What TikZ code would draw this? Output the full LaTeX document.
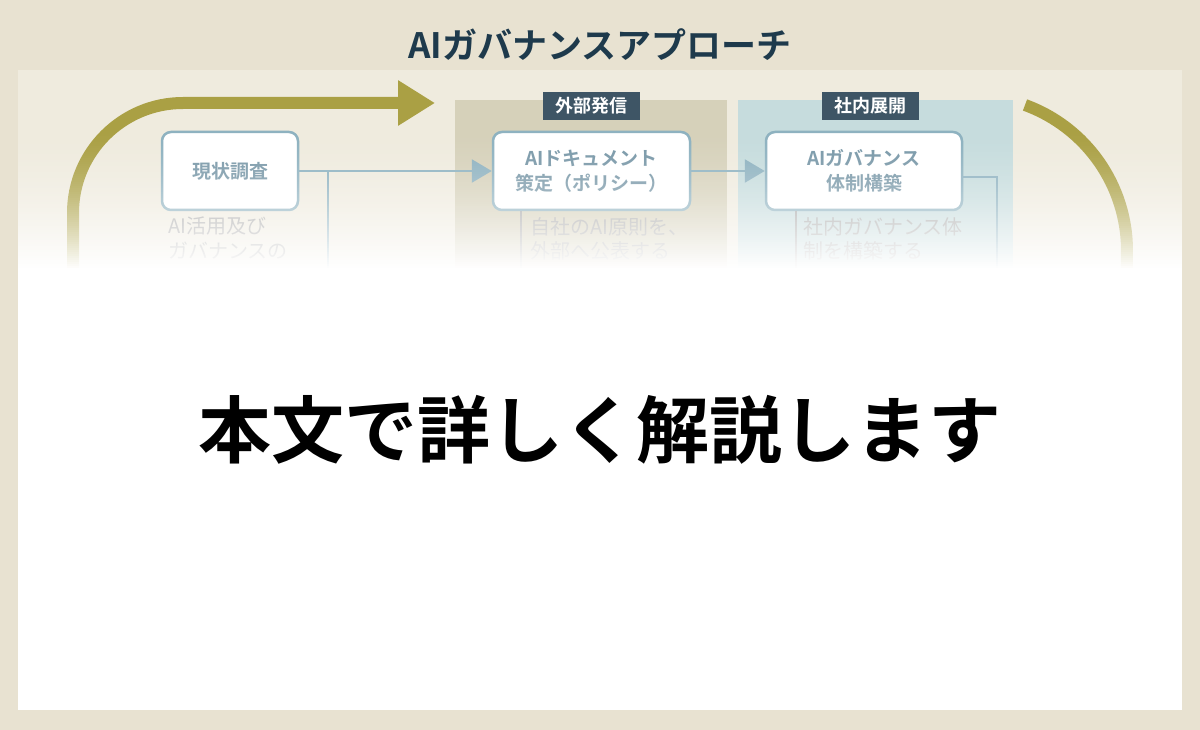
\documentclass[tikz,border=0pt]{standalone}
\usepackage{fontspec}
\usepackage{xcolor}
\usepackage{tikz}
\usetikzlibrary{arrows.meta}
\newfontfamily\jpfont{Noto Sans CJK JP}[BoldFont={Noto Sans CJK JP Bold}]
\definecolor{bgbeige}{RGB}{232,226,209}
\definecolor{panel}{RGB}{239,235,222}
\definecolor{navy}{RGB}{30,58,76}
\definecolor{gold}{RGB}{170,160,68}
\definecolor{bandout}{RGB}{214,209,186}
\definecolor{bandin}{RGB}{198,220,221}
\definecolor{tagbg}{RGB}{62,85,101}
\definecolor{steel}{RGB}{142,178,192}
\definecolor{boxtext}{RGB}{121,152,168}
\definecolor{desc}{RGB}{168,168,168}

\begin{document}
\begin{tikzpicture}[x=1pt, y=-1pt, >={Triangle[length=20pt, width=23pt]},
    stepbox/.style={draw=steel, line width=2.5pt, fill=white, rounded corners=9pt,
        minimum height=78pt, align=center, text=boxtext,
        font=\jpfont\bfseries\fontsize{19}{25}\selectfont},
    tag/.style={fill=tagbg, text=white, minimum width=97pt, minimum height=28pt,
        inner sep=0pt, font=\jpfont\bfseries\fontsize{18}{20}\selectfont},
    note/.style={anchor=north west, inner sep=0pt, align=left, text=desc,
        font=\jpfont\fontsize{20}{24.5}\selectfont},
    link/.style={draw=steel, line width=2.5pt}]

    \useasboundingbox (0,0) rectangle (1200,730);
    \fill[bgbeige] (0,0) rectangle (1200,730);
    \fill[panel] (18,70) rectangle (1182,710);

    \node (title) at (600,45) {\jpfont\bfseries\fontsize{35}{38}\selectfont\color{navy}AIガバナンスアプローチ};

    % bands
    \fill[bandout] (455,100) rectangle (727,300);
    \fill[bandin] (738,100) rectangle (1013,300);
    \node[tag] (tagout) at (591.5,106) {外部発信};
    \node[tag] (tagin) at (870.5,106) {社内展開};

    % cycle arrow
    \coordinate (loopstart) at (73,300);
    \coordinate (loopend) at (435,103);
    \draw[gold, line width=12pt, -{Triangle[length=37pt, width=43pt]}, rounded corners=110pt]
        (loopstart) |- (loopend);
    \coordinate (backstart) at (1025,105);
    \draw[gold, line width=12pt] (backstart) arc[start angle=-70, end angle=0, radius=155] -- ++(0,50);

    % steps
    \node[stepbox, minimum width=136pt] (survey) at (230,171) {現状調査};
    \node[stepbox, minimum width=197pt] (policy) at (591.5,171) {AIドキュメント\\策定（ポリシー）};
    \node[stepbox, minimum width=196pt] (system) at (864,171) {AIガバナンス\\体制構築};

    \draw[link, ->] (survey) -- (policy);
    \draw[link, ->] (policy) -- (system);
    \coordinate (branch) at (328,171);
    \coordinate (branchend) at (328,300);
    \draw[steel, line width=2pt] (branch) -- (branchend);
    \coordinate (sysout) at ([yshift=-6pt]system.east);
    \coordinate (sysdown) at (997,300);
    \draw[link] (sysout) -| (sysdown);

    % notes
    \node[note] (surveynote) at (168,217) {AI活用及び\\ガバナンスの};
    \node[note] (policynote) at (530,217) {自社のAI原則を、\\外部へ公表する};
    \node[note] (systemnote) at (803,217) {社内ガバナンス体\\制を構築する};
    \draw[desc, line width=1.5pt] ([xshift=29pt]policy.south west) -- ++(0,90);
    \draw[desc, line width=1.5pt] ([xshift=31pt]system.south west) -- ++(0,90);

    % fade out towards the bottom
    \foreach \k in {1,...,70} {
        \pgfmathsetmacro\ytop{128+\k*2}
        \pgfmathsetmacro\alph{(\k/70)^1.6}
        \fill[white, fill opacity=\alph] (18,\ytop) rectangle (1182,\ytop+2);
    }
    \fill[white] (18,270) rectangle (1182,710);

    \node (message) at (600,430) {\jpfont\bfseries\fontsize{73}{80}\selectfont 本文で詳しく解説します};

\end{tikzpicture}
\end{document}
